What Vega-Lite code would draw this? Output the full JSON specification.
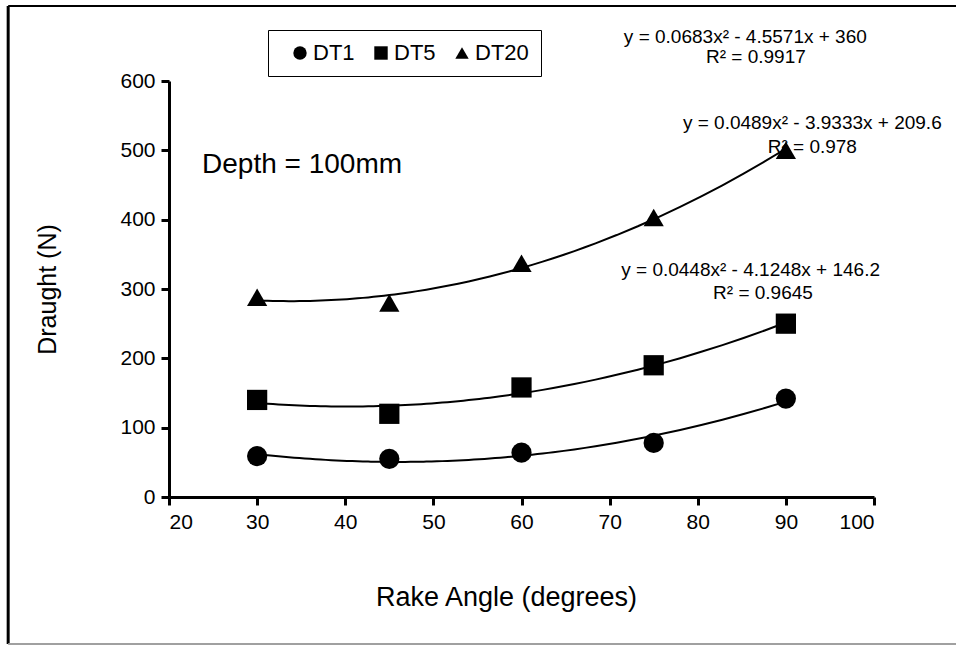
{
  "$schema": "https://vega.github.io/schema/vega-lite/v6.json",
  "width": 705,
  "height": 416,
  "autosize": {"type": "none"},
  "padding": {"left": 169, "top": 81, "right": 82, "bottom": 148},
  "background": "white",
  "config": {
    "view": {"stroke": null},
    "font": "Liberation Sans",
    "axis": {
      "domainColor": "black", "domainWidth": 3, "tickColor": "black", "tickWidth": 3, "tickSize": 8,
      "labelColor": "black", "labelFont": "Liberation Sans", "labelFontSize": 21, "labelPadding": 6,
      "titleColor": "black", "titleFont": "Liberation Sans", "titleFontWeight": "normal", "titleFontSize": 24,
      "grid": false
    }
  },
  "datasets": {
    "points": [
      {"angle": 30, "draught": 59, "series": "DT1"},
      {"angle": 45, "draught": 55, "series": "DT1"},
      {"angle": 60, "draught": 64, "series": "DT1"},
      {"angle": 75, "draught": 78, "series": "DT1"},
      {"angle": 90, "draught": 142, "series": "DT1"},
      {"angle": 30, "draught": 140, "series": "DT5"},
      {"angle": 45, "draught": 120, "series": "DT5"},
      {"angle": 60, "draught": 158, "series": "DT5"},
      {"angle": 75, "draught": 190, "series": "DT5"},
      {"angle": 90, "draught": 250, "series": "DT5"},
      {"angle": 30, "draught": 288, "series": "DT20"},
      {"angle": 45, "draught": 280, "series": "DT20"},
      {"angle": 60, "draught": 337, "series": "DT20"},
      {"angle": 75, "draught": 403, "series": "DT20"},
      {"angle": 90, "draught": 500, "series": "DT20"}
    ],
    "one": [{}]
  },
  "layer": [
    {
      "data": {"name": "one"},
      "mark": {"type": "rule", "color": "black", "strokeWidth": 3, "clip": false},
      "encoding": {
        "x": {"datum": 1.75, "scale": {"domain": [20, 100]}},
        "y": {"datum": 708, "scale": {"domain": [0, 600]}},
        "y2": {"datum": -212}
      }
    },
    {
      "data": {"name": "one"},
      "mark": {"type": "rule", "color": "black", "strokeWidth": 2, "clip": false},
      "encoding": {
        "x": {"datum": 1.75},
        "x2": {"datum": 130},
        "y": {"datum": 708}
      }
    },
    {
      "data": {"name": "one"},
      "mark": {"type": "rule", "color": "#a0a0a0", "strokeWidth": 2, "clip": false},
      "encoding": {
        "x": {"datum": 1.75},
        "x2": {"datum": 130},
        "y": {"datum": -212}
      }
    },
    {
      "data": {"name": "points"},
      "transform": [{"regression": "draught", "on": "angle", "groupby": ["series"], "method": "poly", "order": 2, "extent": [30, 90]}],
      "mark": {"type": "line", "color": "black", "strokeWidth": 2},
      "encoding": {
        "x": {"field": "angle", "type": "quantitative"},
        "y": {"field": "draught", "type": "quantitative"},
        "detail": {"field": "series"}
      }
    },
    {
      "data": {"name": "points"},
      "mark": {"type": "point", "filled": true, "color": "black", "opacity": 1, "size": 410},
      "encoding": {
        "x": {"field": "angle", "type": "quantitative", "scale": {"domain": [20, 100]},
              "axis": {"values": [20, 30, 40, 50, 60, 70, 80, 90, 100], "title": "Rake Angle (degrees)", "titlePadding": 52, "titleFontSize": 27, "titleX": 337}},
        "y": {"field": "draught", "type": "quantitative", "scale": {"domain": [0, 600]},
              "axis": {"values": [0, 100, 200, 300, 400, 500, 600], "title": "Draught (N)", "titlePadding": 59, "titleFontSize": 25}},
        "shape": {"field": "series", "type": "nominal", "sort": ["DT1", "DT5", "DT20"],
                  "scale": {"domain": ["DT1", "DT5", "DT20"], "range": ["circle", "square", "triangle-up"]},
                  "legend": {"title": null, "orient": "none", "legendX": 99, "legendY": -51, "direction": "horizontal",
                             "padding": 12, "strokeColor": "black", "labelFontSize": 22, "labelColor": "black",
                             "symbolSize": 180, "symbolFillColor": "black", "symbolStrokeColor": "black", "symbolOffset": 9,
                             "columnPadding": 6, "labelOffset": 2}}
      }
    },
    {
      "data": {"name": "one"},
      "mark": {"type": "text", "fontSize": 28, "align": "left", "baseline": "middle", "color": "black"},
      "encoding": {"x": {"datum": 23.75}, "y": {"datum": 479}, "text": {"value": "Depth = 100mm"}}
    },
    {
      "data": {"name": "one"},
      "mark": {"type": "text", "fontSize": 19, "align": "center", "baseline": "middle", "color": "black"},
      "encoding": {"x": {"datum": 85.4}, "y": {"datum": 663}, "text": {"value": "y = 0.0683x² - 4.5571x  + 360"}}
    },
    {
      "data": {"name": "one"},
      "mark": {"type": "text", "fontSize": 19, "align": "center", "baseline": "middle", "color": "black"},
      "encoding": {"x": {"datum": 86.6}, "y": {"datum": 634.5}, "text": {"value": "R² = 0.9917"}}
    },
    {
      "data": {"name": "one"},
      "mark": {"type": "text", "fontSize": 19, "align": "center", "baseline": "middle", "color": "black"},
      "encoding": {"x": {"datum": 93.0}, "y": {"datum": 539.5}, "text": {"value": "y = 0.0489x² - 3.9333x + 209.6"}}
    },
    {
      "data": {"name": "one"},
      "mark": {"type": "text", "fontSize": 19, "align": "center", "baseline": "middle", "color": "black"},
      "encoding": {"x": {"datum": 93.0}, "y": {"datum": 505}, "text": {"value": "R² = 0.978"}}
    },
    {
      "data": {"name": "one"},
      "mark": {"type": "text", "fontSize": 19, "align": "center", "baseline": "middle", "color": "black"},
      "encoding": {"x": {"datum": 86.0}, "y": {"datum": 327.5}, "text": {"value": "y = 0.0448x² - 4.1248x  + 146.2"}}
    },
    {
      "data": {"name": "one"},
      "mark": {"type": "text", "fontSize": 19, "align": "center", "baseline": "middle", "color": "black"},
      "encoding": {"x": {"datum": 87.4}, "y": {"datum": 294}, "text": {"value": "R² = 0.9645"}}
    }
  ]
}
